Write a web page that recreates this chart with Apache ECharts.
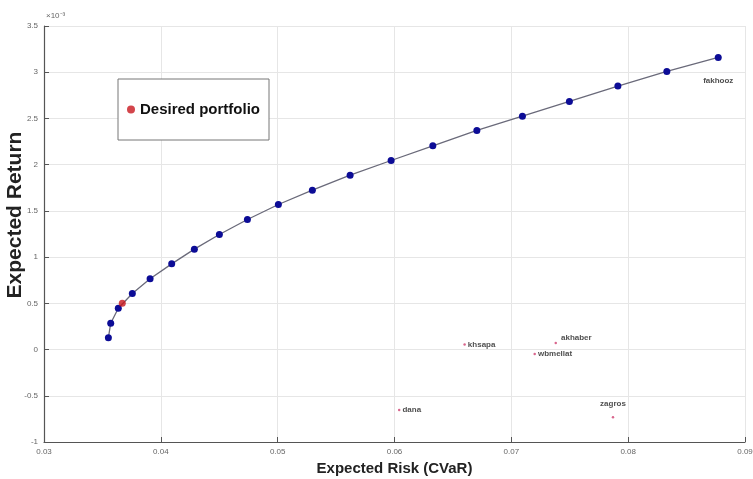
<!DOCTYPE html>
<html>
<head>
<meta charset="utf-8">
<script src="https://cdn.jsdelivr.net/npm/echarts@6/dist/echarts.min.js"></script>
<style>html,body{margin:0;padding:0;background:#fff}#c{width:753px;height:479px}</style>
</head>
<body>
<div id="c"></div>
<script>
// Efficient frontier (risk = CVaR, return in units of 1e-3)
var frontierRisk = [0.03551,0.03571,0.03636,0.03756,0.03908,0.04093,0.04287,0.04501,0.04741,0.05006,0.05297,0.0562,0.05971,0.06328,0.06705,0.07095,0.07497,0.07912,0.08331,0.08771];
var frontierReturn = [0.127,0.285,0.447,0.606,0.765,0.927,1.086,1.245,1.407,1.569,1.724,1.886,2.045,2.204,2.370,2.525,2.684,2.850,3.009,3.160];
// Desired portfolio
var desiredRisk = [0.0367];
var desiredReturn = [0.501];
// Individual assets
var assetNames = ['khsapa','akhaber','wbmellat','dana','zagros','fakhooz'];
var assetRisk = [0.0660,0.0738,0.0720,0.0604,0.0787,0.08771];
var assetReturn = [0.054,0.072,-0.047,-0.653,-0.733,3.160];
var xTicks = [0.03,0.04,0.05,0.06,0.07,0.08,0.09];
var yTicks = [-1,-0.5,0,0.5,1,1.5,2,2.5,3,3.5];

var sans = '"Liberation Sans", Arial, sans-serif';
var chart = echarts.init(document.getElementById('c'));

var assetLabelCfg = {
  khsapa:  {position:'right', distance:2},
  akhaber: {position:'right', distance:4, offset:[0,-5]},
  wbmellat:{position:'right', distance:2},
  dana:    {position:'right', distance:2},
  zagros:  {position:'top', distance:8},
  fakhooz: {position:'bottom', distance:18, offset:[0,0]}
};

var assetData = assetNames.map(function(n,i){
  var c = assetLabelCfg[n];
  return {
    value:[assetRisk[i], assetReturn[i]],
    name:n,
    label:Object.assign({show:true, formatter:n, fontSize:8, fontWeight:'bold', color:'#222', fontFamily:sans}, c)
  };
});

chart.setOption({
  animation:false,
  backgroundColor:'#fff',
  grid:{left:44, right:8, top:26, bottom:37, containLabel:false, outerBoundsMode:'none'},
  legend:{
    left:118, top:79,
    padding:[23,9,23,9],
    backgroundColor:'#fff',
    borderColor:'#777', borderWidth:1,
    itemWidth:8, itemHeight:8, itemGap:6,
    icon:'circle',
    data:['Desired portfolio'],
    textStyle:{fontSize:15, fontWeight:'bold', color:'#111', fontFamily:sans}
  },
  xAxis:{
    type:'value', min:0.03, max:0.09, interval:0.01,
    name:'Expected Risk (CVaR)', nameLocation:'middle', nameGap:19,
    nameTextStyle:{fontSize:15, fontWeight:'bold', color:'#222', fontFamily:sans},
    axisLine:{onZero:false, lineStyle:{color:'#555', width:1.2}},
    axisTick:{inside:true, length:5, lineStyle:{color:'#555'}},
    axisLabel:{fontSize:8, color:'#666', margin:6, fontFamily:sans,
      formatter:function(v){return xTicks.indexOf(+v.toFixed(2))>=0 ? (+v.toFixed(2)).toString() : '';}},
    splitLine:{show:true, lineStyle:{color:'#e6e6e6', width:1}}
  },
  yAxis:{
    type:'value', min:-1, max:3.5, interval:0.5,
    name:'Expected Return', nameLocation:'middle', nameGap:18, nameRotate:90,
    nameMoveOverlap:false,
    nameTextStyle:{fontSize:21, fontWeight:'bold', color:'#222', fontFamily:sans, padding:[0,0,0,38]},
    axisLine:{show:true, onZero:false, lineStyle:{color:'#555', width:1.2}},
    axisTick:{show:true, inside:true, length:5, lineStyle:{color:'#555'}},
    axisLabel:{fontSize:8, color:'#666', margin:6, fontFamily:sans,
      formatter:function(v){var r=+v.toFixed(1); return yTicks.indexOf(r)>=0 ? r.toString() : '';}},
    splitLine:{show:true, lineStyle:{color:'#e6e6e6', width:1}}
  },
  graphic:[{
    type:'text', left:46, top:12,
    style:{text:'\u00d710\u207b\u00b3', fontSize:8, fill:'#666', fontFamily:sans}
  }],
  series:[
    {
      name:'Assets', type:'scatter', symbol:'circle', symbolSize:2.5,
      itemStyle:{color:'#d04070'},
      data:assetData, z:2
    },
    {
      name:'Frontier', type:'line', symbol:'circle', symbolSize:7,
      showSymbol:true,
      lineStyle:{color:'#6a6a7a', width:1.3},
      itemStyle:{color:'#0c0c96', borderWidth:0},
      data:frontierRisk.map(function(x,i){return [x, frontierReturn[i]];}), z:3
    },
    {
      name:'Desired portfolio', type:'scatter', symbol:'circle', symbolSize:7,
      itemStyle:{color:'#c8161e'},
      data:desiredRisk.map(function(x,i){return [x, desiredReturn[i]];}), z:4
    }
  ]
});
</script>
</body>
</html>
